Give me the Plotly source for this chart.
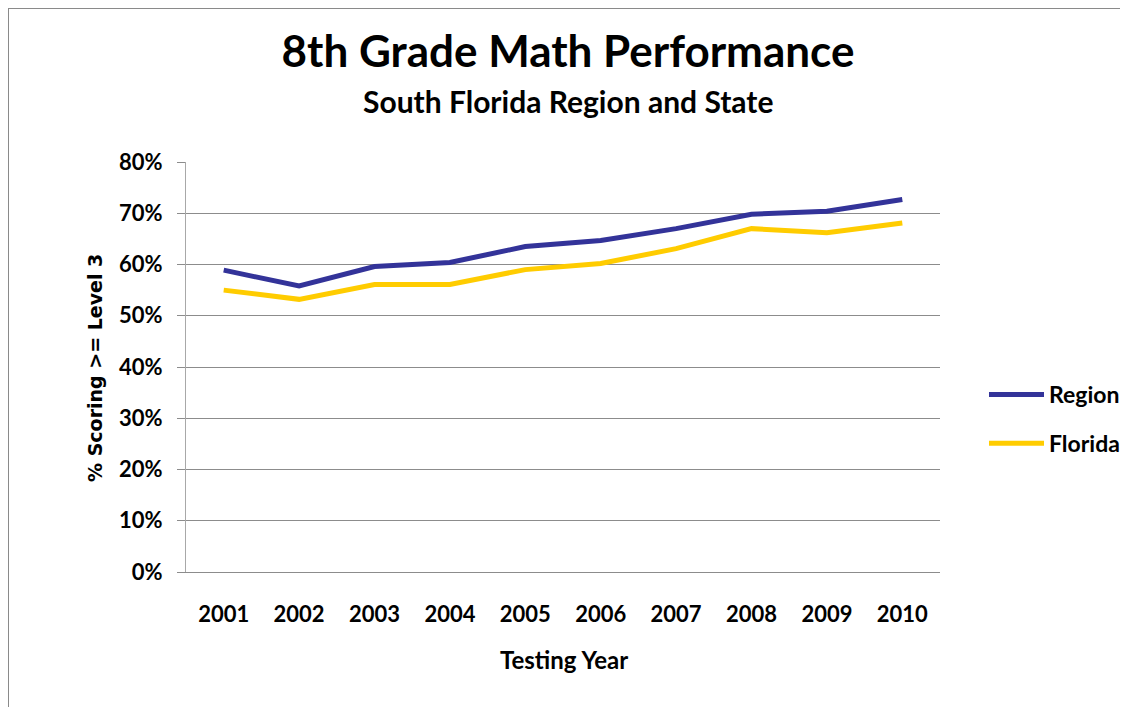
import plotly.graph_objects as go

years = ["2001", "2002", "2003", "2004", "2005", "2006", "2007", "2008", "2009", "2010"]
region = [0.589, 0.558, 0.596, 0.604, 0.635, 0.647, 0.670, 0.698, 0.704, 0.727]
florida = [0.550, 0.532, 0.561, 0.561, 0.590, 0.602, 0.631, 0.670, 0.662, 0.681]

title_text = "8th Grade Math Performance"
subtitle_text = "South Florida Region and State"
x_title = "Testing Year"
y_title = "% Scoring >= Level 3"

FONT = "Lato"

fig = go.Figure()
fig.add_trace(go.Scatter(x=years, y=region, mode="lines", name="<b>Region</b>",
                         line=dict(color="#333399", width=5), legendgroup="a"))
fig.add_trace(go.Scatter(x=years, y=florida, mode="lines", name="<b>Florida</b>",
                         line=dict(color="#FFCC00", width=5), legendgroup="b"))

OFF = 8  # page body margin
W, H = 1128 - OFF, 707 - OFF
# plot area in page pixels: x 186..940, y 162..572
L, R, T, B = 186 - OFF, 1128 - 940, 162 - OFF, 707 - 572
pw, ph = W - L - R, H - T - B

def px_x(p):
    return (p - OFF - L) / pw

def px_y(p):
    return (H - B - (p - OFF)) / ph

fig.update_layout(
    width=W, height=H,
    margin=dict(l=L, r=R, t=T, b=B, autoexpand=False),
    paper_bgcolor="white", plot_bgcolor="white",
    font=dict(family=FONT, color="black"),
    title=dict(text="<b>" + title_text + "</b>", x=px_x(568), xref="paper", xanchor="center",
               y=1 - (52 - OFF) / H, yanchor="middle", font=dict(size=44, family=FONT)),
    showlegend=True,
    legend=dict(x=px_x(984), xanchor="left", y=px_y(419), yanchor="middle",
                font=dict(size=23, family=FONT), tracegroupgap=16,
                bgcolor="rgba(0,0,0,0)", itemwidth=55),
    xaxis=dict(type="category", range=[-0.5, 9.5], showgrid=False, showline=True,
               linecolor="#8c8c8c", linewidth=1, ticks="",
               tickfont=dict(size=22, family=FONT), ticklabelstandoff=23,
               tickprefix="<b>", ticksuffix="</b>", zeroline=False),
    yaxis=dict(range=[0, 0.8], dtick=0.1, tickformat=".0%", showgrid=True,
               gridcolor="#8c8c8c", gridwidth=1, showline=True, linecolor="#a8a8a8",
               linewidth=1, ticks="outside", ticklen=8, tickcolor="#8c8c8c",
               tickfont=dict(size=22, family=FONT), ticklabelstandoff=10,
               tickprefix="<b>", ticksuffix="</b>", zeroline=False),
)

fig.add_annotation(text="<b>" + subtitle_text + "</b>", xref="paper", yref="paper",
                   x=px_x(568), y=px_y(101), xanchor="center", yanchor="middle",
                   showarrow=False, font=dict(size=30, family=FONT))
fig.add_annotation(text="<b>" + x_title + "</b>", xref="paper", yref="paper",
                   x=px_x(564), y=px_y(659), xanchor="center", yanchor="middle",
                   showarrow=False, font=dict(size=24, family=FONT))
fig.add_annotation(text="<b>" + y_title + "</b>", xref="paper", yref="paper",
                   x=px_x(95), y=px_y(368), xanchor="center", yanchor="middle",
                   textangle=-90, showarrow=False,
                   font=dict(size=19, family="DejaVu Sans"))

border = "#8a8a8a"
fig.add_shape(type="line", xref="paper", yref="paper",
              x0=px_x(8), x1=px_x(1135), y0=px_y(8), y1=px_y(8),
              line=dict(color=border, width=2))
fig.add_shape(type="line", xref="paper", yref="paper",
              x0=px_x(8), x1=px_x(8), y0=px_y(8), y1=px_y(715),
              line=dict(color=border, width=2))

fig.write_html("out.html")
